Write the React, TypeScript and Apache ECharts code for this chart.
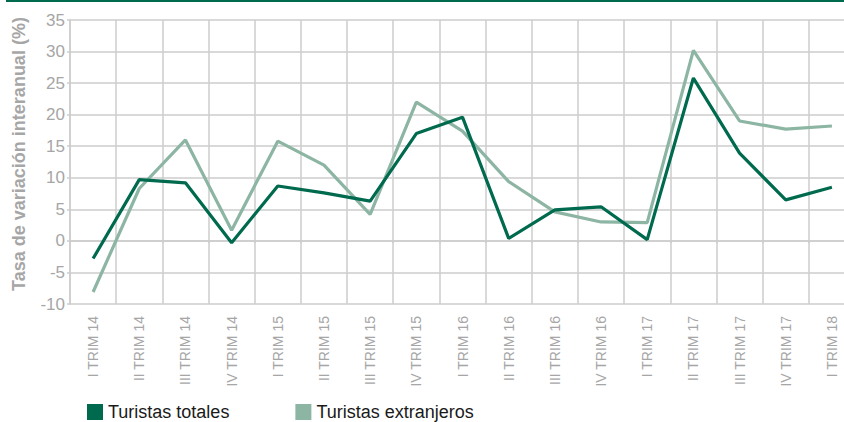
import React, { useEffect, useRef } from "react";
import * as echarts from "echarts";

const categories = [
  "I TRIM 14", "II TRIM 14", "III TRIM 14", "IV TRIM 14",
  "I TRIM 15", "II TRIM 15", "III TRIM 15", "IV TRIM 15",
  "I TRIM 16", "II TRIM 16", "III TRIM 16", "IV TRIM 16",
  "I TRIM 17", "II TRIM 17", "III TRIM 17", "IV TRIM 17",
  "I TRIM 18",
];
const turistasTotales = [-2.8, 9.7, 9.2, -0.3, 8.7, 7.6, 6.3, 17.0, 19.6, 0.4, 4.9, 5.4, 0.2, 25.8, 13.9, 6.5, 8.5];
const turistasExtranjeros = [-8.1, 8.3, 16.0, 1.7, 15.8, 12.0, 4.2, 22.0, 17.4, 9.4, 4.6, 3.0, 2.9, 30.2, 19.0, 17.7, 18.2];

const DARK = "#006A4E";
const LIGHT = "#8DB5A4";
const GRID = "#cccccc";
const LABEL = "#a6a6a6";
const FONT = "'Liberation Sans', Arial, sans-serif";

export default function App() {
  const ref = useRef<HTMLDivElement>(null);
  useEffect(() => {
    document.body.style.margin = "0";
    const chart = echarts.init(ref.current!, null, { renderer: "svg" });
    chart.setOption({
      animation: false,
      textStyle: { fontFamily: FONT },
      graphic: [
        { type: "rect", shape: { x: 6, y: 0, width: 838, height: 2 }, style: { fill: DARK } },
        {
          type: "text",
          x: 19,
          y: 154,
          rotation: Math.PI / 2,
          style: {
            text: "Tasa de variación interanual (%)",
            fill: LABEL,
            font: "bold 18px " + FONT,
            textAlign: "center",
            textVerticalAlign: "middle",
          },
        },
      ],
      legend: {
        left: 87,
        top: 403,
        padding: 0,
        itemWidth: 16,
        itemHeight: 16,
        itemGap: 66,
        icon: "rect",
        textStyle: { fontSize: 18, color: "#1a1a1a", fontFamily: FONT, lineHeight: 16 },
        data: [
          { name: "Turistas totales", itemStyle: { color: DARK } },
          { name: "Turistas extranjeros", itemStyle: { color: LIGHT } },
        ],
      },
      grid: { left: 70, top: 20, right: 5, bottom: 118, containLabel: false },
      xAxis: {
        type: "category",
        data: categories,
        boundaryGap: true,
        axisLine: { lineStyle: { color: GRID, width: 1.5 } },
        axisTick: { show: true, length: 2, lineStyle: { color: GRID, width: 1.5 } },
        splitLine: { show: true, lineStyle: { color: GRID, width: 1.5 } },
        axisLabel: {
          rotate: 90,
          interval: 0,
          color: LABEL,
          fontSize: 14,
          margin: 12,
          fontFamily: FONT,
        },
      },
      yAxis: {
        type: "value",
        min: -10,
        max: 35,
        interval: 5,
        axisLine: { show: true, lineStyle: { color: GRID, width: 1.5 } },
        axisTick: { show: true, length: 3, lineStyle: { color: GRID, width: 1.5 } },
        splitLine: { show: true, lineStyle: { color: GRID, width: 1.5 } },
        axisLabel: { color: LABEL, fontSize: 17, margin: 5, fontFamily: FONT },
      },
      series: [
        {
          name: "Turistas totales",
          type: "line",
          data: turistasTotales,
          symbol: "none",
          z: 3,
          lineStyle: { color: DARK, width: 3.2 },
          itemStyle: { color: DARK },
        },
        {
          name: "Turistas extranjeros",
          type: "line",
          data: turistasExtranjeros,
          symbol: "none",
          z: 2,
          lineStyle: { color: LIGHT, width: 3.2 },
          itemStyle: { color: LIGHT },
        },
      ],
    });
    return () => chart.dispose();
  }, []);
  return (
    <div style={{ width: 844, height: 422, overflow: "hidden" }}>
      <div ref={ref} style={{ width: 860, height: 422 }} />
    </div>
  );
}
